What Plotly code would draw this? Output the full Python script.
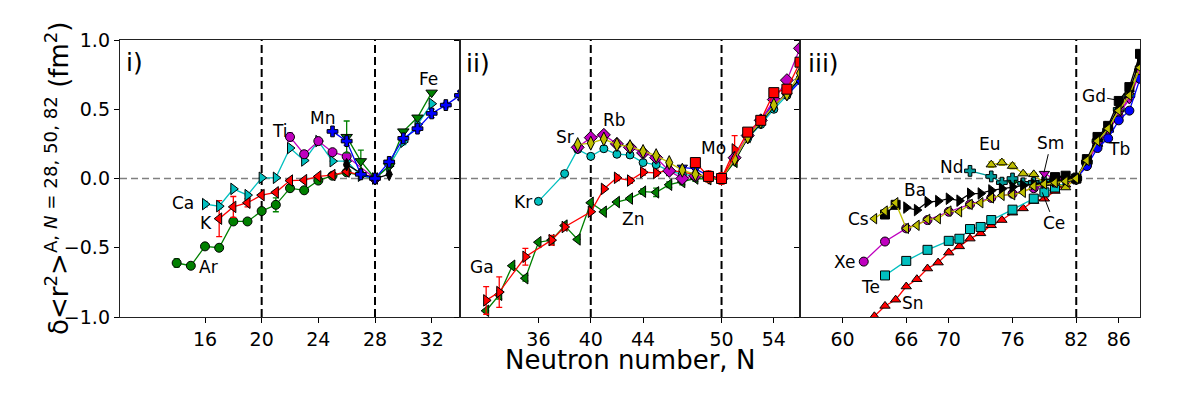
import plotly.graph_objects as go
from plotly.subplots import make_subplots

FONT = "DejaVu Sans"

# matplotlib single-letter colours
G, R, C, M, Y, B, K = "#008000", "#ff0000", "#00bfbf", "#bf00bf", "#bfbf00", "#0000ff", "#000000"
TEAL = "#009a9a"

# ---------------- panel i)  (relative to N = 28) ----------------
AR_N = [14, 15, 16, 17, 18, 19, 20, 21, 22, 23, 24, 25, 26, 28]
AR_DR = [-0.61, -0.63, -0.49, -0.50, -0.31, -0.31, -0.235, -0.19, -0.07, -0.085, -0.015, 0.02, 0.045, 0.0]
AR_ERR = [0.03, 0, 0, 0, 0, 0, 0, 0.05, 0, 0, 0, 0, 0, 0]

K_N = [17, 18, 19, 20, 21, 22, 23, 24, 25, 26, 28]
K_DR = [-0.29, -0.205, -0.175, -0.12, -0.10, -0.015, -0.012, 0.015, 0.025, 0.05, 0.0]
K_ERR = [0.13, 0.075, 0.03, 0, 0, 0, 0, 0, 0, 0, 0]

CA_N = [16, 17, 18, 19, 20, 21, 22, 23, 24, 25, 26, 27, 28, 29, 30, 31, 32]
CA_DR = [-0.185, -0.2, -0.075, -0.12, 0.005, 0.005, 0.22, 0.13, 0.27, 0.125, 0.125, 0.02, 0.0,
         0.09, 0.265, 0.39, 0.54]
CA_ERR = [0.02, 0.02, 0, 0, 0, 0, 0, 0, 0, 0, 0, 0, 0, 0, 0.02, 0, 0]

TI_N = [22, 23, 24, 25, 26, 28]
TI_DR = [0.30, 0.175, 0.27, 0.19, 0.16, 0.0]
TI_ERR = [0.03, 0, 0, 0, 0, 0]

CR_N = [26, 27, 28, 29]
CR_DR = [0.10, 0.04, 0.0, 0.03]

MN_N = [25, 26, 27, 28, 29, 30, 31, 32, 33, 34]
MN_DR = [0.34, 0.27, 0.03, 0.0, 0.12, 0.29, 0.36, 0.47, 0.53, 0.60]
MN_ERR = [0, 0.03, 0, 0, 0, 0, 0.02, 0.03, 0.02, 0.03]

FE_N = [26, 27, 28, 29, 30, 31, 32]
FE_DR = [0.30, 0.125, 0.0, 0.09, 0.34, 0.44, 0.62]
FE_ERR = [0.115, 0.08, 0, 0, 0, 0, 0]

# ---------------- panel ii)  (relative to N = 50) ----------------
GA_N = [32, 33, 35, 37, 38, 40, 41, 42, 43, 44, 45, 46, 50, 51]
GA_DR = [-0.88, -0.82, -0.565, -0.445, -0.35, -0.24, -0.075, 0.005, -0.015, 0.045, 0.04, 0.06, 0.0, 0.21]
GA_ERR = [0.1, 0.11, 0.06, 0.035, 0.02, 0, 0, 0.02, 0.02, 0.02, 0.02, 0.03, 0, 0.1]

ZN_N = [32, 33, 34, 35, 36, 37, 38, 39, 40, 41, 42, 43, 44, 45, 46, 47, 48, 49, 50, 51, 52]
ZN_DR = [-0.955, -0.84, -0.63, -0.72, -0.46, -0.445, -0.34, -0.44, -0.175, -0.24, -0.17, -0.145,
         -0.095, -0.10, -0.045, -0.025, 0.0, -0.005, 0.0, 0.12, 0.30]
ZN_ERR = [0, 0.03, 0, 0.02, 0, 0, 0, 0, 0, 0.01, 0, 0.01, 0.02, 0.03, 0.02, 0.02, 0.02, 0.02, 0.03, 0, 0]

KR_N = [36, 38, 39, 40, 41, 42, 43, 44, 45, 46, 47, 48, 49, 50, 51, 52, 53, 54, 55, 56]
KR_DR = [-0.165, 0.035, 0.21, 0.16, 0.215, 0.175, 0.17, 0.115, 0.10, 0.055, 0.03, 0.02, 0.01, 0.0,
         0.14, 0.29, 0.39, 0.50, 0.60, 0.72]

SR_N = [39, 40, 41, 42, 43, 44, 45, 46, 47, 48, 49, 50, 51, 52, 53, 54, 55, 56]
SR_DR = [0.245, 0.255, 0.285, 0.245, 0.23, 0.195, 0.165, 0.115, 0.06, 0.03, 0.01, 0.0,
         0.14, 0.30, 0.41, 0.53, 0.61, 0.76]

RB_N = [39, 40, 41, 42, 43, 44, 45, 46, 47, 48, 49, 50, 51, 52, 53, 54, 55, 56]
RB_DR = [0.225, 0.295, 0.315, 0.25, 0.225, 0.185, 0.15, 0.055, 0.0, 0.02, 0.01, 0.0,
         0.15, 0.31, 0.42, 0.57, 0.71, 0.94]

Y_N = [47, 48, 49, 50, 51, 52, 53, 54, 55, 56]
Y_DR = [0.08, 0.07, 0.02, 0.0, 0.14, 0.30, 0.41, 0.55, 0.60, 0.70]

ZR_N = [50, 51, 52, 53, 54, 55, 56]
ZR_DR = [0.0, 0.13, 0.29, 0.40, 0.52, 0.62, 0.72]

MO_N = [48, 49, 50, 52, 53, 54, 55, 56]
MO_DR = [0.115, 0.015, 0.0, 0.335, 0.42, 0.62, 0.645, 0.84]
MO_ERR = [0.03, 0.04, 0.04, 0, 0, 0, 0, 0]

# ---------------- panel iii)  (relative to N = 82) ----------------
SN_N = list(range(63, 86))
SN_DR = [-0.995, -0.92, -0.875, -0.78, -0.727, -0.65, -0.607, -0.535, -0.49, -0.434, -0.396, -0.338,
         -0.30, -0.247, -0.216, -0.163, -0.146, -0.09, -0.045, 0.0, 0.12, 0.25, 0.35]

TE_N = [64, 66, 68, 70, 71, 72, 73, 74, 76, 78, 79, 80, 82, 83, 84]
TE_DR = [-0.70, -0.595, -0.515, -0.45, -0.435, -0.365, -0.35, -0.30, -0.225, -0.145, -0.10, -0.065,
         0.0, 0.12, 0.26]

XE_N = [62, 64, 66, 68, 70, 72, 74, 76, 78, 80, 82, 84, 86, 88]
XE_DR = [-0.60, -0.455, -0.36, -0.30, -0.24, -0.187, -0.14, -0.11, -0.07, -0.03, 0.0, 0.25, 0.45, 0.75]

CS_N = list(range(63, 89))
CS_DR = [-0.29, -0.235, -0.175, -0.36, -0.338, -0.295, -0.29, -0.235, -0.24, -0.187, -0.175, -0.14,
         -0.122, -0.117, -0.10, -0.055, -0.04, -0.03, -0.02, 0.0, 0.13, 0.27, 0.36, 0.49, 0.60, 0.80]

BA_N = list(range(66, 89))
BA_DR = [-0.21, -0.228, -0.17, -0.163, -0.146, -0.16, -0.11, -0.108, -0.086, -0.074, -0.06, -0.05,
         -0.04, -0.03, -0.02, -0.01, 0.0, 0.13, 0.28, 0.37, 0.52, 0.63, 0.86]
BA_SQ_N = [64, 65]
BA_SQ_DR = [-0.26, -0.19]

CE_N = [76, 78, 80, 82]
CE_DR = [-0.03, -0.03, -0.01, 0.0]

ND_N = [72, 74, 75, 76, 77, 78, 79, 80, 81, 82, 83, 84, 85, 86, 87, 88]
ND_DR = [0.055, 0.015, -0.03, 0.0, -0.035, -0.03, -0.02, -0.01, -0.005, 0.0, 0.12, 0.27, 0.35, 0.50,
         0.60, 0.78]

SM_N = [79, 80, 81, 82, 83, 84, 85, 86, 87, 88]
SM_DR = [0.035, -0.005, 0.0, 0.0, 0.11, 0.25, 0.34, 0.47, 0.57, 0.77]

EU_N = [74, 75, 76, 77, 78, 79, 80, 81, 82, 83, 84, 85, 86, 87, 88]
EU_DR = [0.10, 0.115, 0.09, 0.035, 0.03, -0.035, -0.03, -0.065, 0.0, 0.12, 0.27, 0.36, 0.50, 0.62, 0.82]
EU_ERR = [0.02, 0.02, 0.02, 0.01, 0.01, 0, 0, 0, 0, 0, 0, 0, 0, 0, 0]

GD_N = [80, 81, 82, 83, 84, 85, 86, 87, 88]
GD_DR = [0.01, 0.02, 0.0, 0.14, 0.30, 0.38, 0.56, 0.66, 0.90]

TB_N = [82, 83, 84, 85, 86, 87, 88]
TB_DR = [0.0, 0.09, 0.22, 0.29, 0.42, 0.49, 0.72]

# (panel, N, dr, err, colour, symbol, size)
SERIES = [
    (1, AR_N, AR_DR, AR_ERR, G, "circle", 9),
    (1, K_N, K_DR, K_ERR, R, "triangle-left", 10),
    (1, CA_N, CA_DR, CA_ERR, C, "triangle-right", 10),
    (1, TI_N, TI_DR, TI_ERR, M, "circle", 9),
    (1, CR_N, CR_DR, None, K, "diamond-tall", 9),
    (1, FE_N, FE_DR, FE_ERR, G, "triangle-down", 10),
    (1, MN_N, MN_DR, MN_ERR, B, "cross", 9),
    (2, ZN_N, ZN_DR, ZN_ERR, G, "triangle-left", 10),
    (2, GA_N, GA_DR, GA_ERR, R, "triangle-right", 10),
    (2, KR_N, KR_DR, None, C, "circle", 8),
    (2, ZR_N, ZR_DR, None, K, "diamond-tall", 8),
    (2, Y_N, Y_DR, None, B, "triangle-down", 9),
    (2, RB_N, RB_DR, None, M, "diamond", 10),
    (2, SR_N, SR_DR, None, Y, "diamond-tall", 10),
    (2, MO_N, MO_DR, MO_ERR, R, "square", 10),
    (3, SN_N, SN_DR, None, R, "triangle-up", 9),
    (3, TE_N, TE_DR, None, C, "square", 9),
    (3, XE_N, XE_DR, None, M, "circle", 9),
    (3, CE_N, CE_DR, None, G, "triangle-down", 9),
    (3, ND_N, ND_DR, None, TEAL, "cross", 9),
    (3, EU_N, EU_DR, EU_ERR, Y, "triangle-up", 9),
    (3, SM_N, SM_DR, None, M, "triangle-down", 9),
    (3, TB_N, TB_DR, None, B, "circle", 9),
    (3, GD_N, GD_DR, None, K, "square", 9),
    (3, BA_N, BA_DR, None, K, "triangle-right", 10),
    (3, BA_SQ_N, BA_SQ_DR, None, K, "square", 9),
    (3, CS_N, CS_DR, None, Y, "triangle-left", 9),
]

# element labels: (panel, text, N, dr)
LABELS = [
    (1, "i)", 11.0, 0.84), (1, "Ca", 14.47, -0.18), (1, "K", 16.07, -0.32), (1, "Ar", 16.23, -0.64),
    (1, "Ti", 21.3, 0.34), (1, "Mn", 24.3, 0.44), (1, "Fe", 31.76, 0.72),
    (2, "ii)", 31.4, 0.83), (2, "Kr", 34.84, -0.167), (2, "Sr", 38.0, 0.30), (2, "Rb", 41.85, 0.42),
    (2, "Zn", 43.2, -0.295), (2, "Ga", 31.66, -0.64), (2, "Mo", 49.37, 0.22),
    (3, "iii)", 58.2, 0.83), (3, "Cs", 61.5, -0.29), (3, "Ba", 66.8, -0.083), (3, "Xe", 60.2, -0.60),
    (3, "Te", 62.6, -0.78), (3, "Sn", 66.6, -0.90), (3, "Nd", 70.3, 0.085), (3, "Eu", 73.9, 0.25),
    (3, "Tb", 86.0, 0.21),
]
# labels with a pointer line: (text, N tip, dr tip, dx px, dy px)
POINTERS = [("Sm", 78.96, 0.042, 7, -30), ("Ce", 78.8, -0.10, 12, 31), ("Gd", 85.8, 0.567, -23, -4)]

X_RANGES = [[10, 34], [30, 56], [56, 88]]
X_TICKS = [[16, 20, 24, 28, 32], [36, 40, 44, 50, 54], [60, 66, 70, 76, 82, 86]]
MAGIC = [[20, 28], [40, 50], [82]]

fig = make_subplots(rows=1, cols=3, shared_yaxes=True, horizontal_spacing=0)

for panel, n, dr, err, color, symbol, size in SERIES:
    tr = go.Scatter(
        x=n, y=dr, mode="lines+markers",
        line=dict(color=color, width=1.3),
        marker=dict(symbol=symbol, size=size, color=color, line=dict(color="black", width=1)),
        hoverinfo="x+y",
    )
    if err is not None:
        tr.error_y = dict(type="data", array=err, color=color, thickness=1.3, width=3)
    fig.add_trace(tr, row=1, col=panel)

for i in range(3):
    ax = "" if i == 0 else str(i + 1)
    fig.update_layout({
        f"xaxis{ax}": dict(
            domain=[i / 3, (i + 1) / 3], range=X_RANGES[i], tickvals=X_TICKS[i],
            ticks="outside", ticklen=5, tickwidth=1.2, tickcolor="black",
            showline=True, linecolor="#222", linewidth=1.4, mirror=True,
            showgrid=False, zeroline=False, tickfont=dict(size=19), automargin=False,
        ),
        f"yaxis{ax}": dict(
            range=[-1, 1], tickvals=[-1, -0.5, 0, 0.5, 1], tickformat=".1f",
            ticks="outside", ticklen=5, tickwidth=1.2, tickcolor="black",
            showline=True, linecolor="#222", linewidth=1.4, mirror=True,
            showgrid=False, zeroline=False, showticklabels=(i == 0), tickfont=dict(size=19),
            automargin=False,
        ),
    })
    xr = f"x{ax}"
    yr = f"y{ax}"
    fig.add_shape(type="line", xref=f"{xr} domain", yref=yr, x0=0, x1=1, y0=0, y1=0,
                  line=dict(color="#808080", width=1.3, dash="7px,4px"), layer="below")
    for m in MAGIC[i]:
        fig.add_shape(type="line", xref=xr, yref=f"{yr} domain", x0=m, x1=m, y0=0, y1=1,
                      line=dict(color="black", width=2, dash="8px,4px"), layer="below")

for panel, text, n, dr in LABELS:
    ax = "" if panel == 1 else str(panel)
    big = text.endswith(")")
    fig.add_annotation(x=n, y=dr, xref=f"x{ax}", yref=f"y{ax}", text=text, showarrow=False,
                       font=dict(size=25 if big else 17, color="black"))

for text, n, dr, dx, dy in POINTERS:
    fig.add_annotation(x=n, y=dr, xref="x3", yref="y3", text=text, showarrow=True,
                       arrowhead=0, arrowwidth=1, arrowcolor="black", ax=dx, ay=dy,
                       font=dict(size=17, color="black"))

fig.add_annotation(x=0.5, y=-0.155, xref="paper", yref="paper", text="Neutron number, N",
                   showarrow=False, font=dict(size=26, color="black"), yanchor="middle")
fig.add_annotation(
    x=-0.081, y=0.5, xref="paper", yref="paper", textangle=-90, showarrow=False,
    text="δ&lt;r<sup>2</sup>&gt;<sup>A, <i>N</i> = 28, 50, 82</sup> (fm<sup>2</sup>)",
    font=dict(size=26, color="black"),
)

# the page body adds an 8 px margin, so the figure is 16 px smaller than the window
fig.update_layout(
    width=1184, height=382,
    margin=dict(l=112, r=52, t=32, b=73),
    plot_bgcolor="white", paper_bgcolor="white",
    showlegend=False,
    font=dict(family=FONT, color="black"),
)

fig.write_html("out.html")
